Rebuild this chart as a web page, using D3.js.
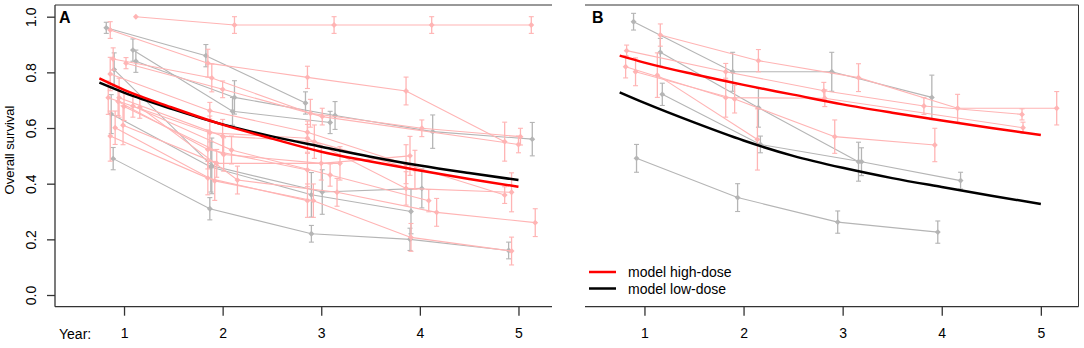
<!DOCTYPE html>
<html>
<head>
<meta charset="utf-8">
<script src="https://cdn.jsdelivr.net/npm/d3@7"></script>
<style>
  body { margin: 0; background: #fff; }
  svg { display: block; font-family: "Liberation Sans", Arial, sans-serif; }
</style>
</head>
<body>
<div id="chart"></div>
<script>
// years on the axis
var yearTicks = [1, 2, 3, 4, 5];
var survTicks = [0, 0.2, 0.4, 0.6, 0.8, 1.0];

// study curves: [year, survival, error half-width]
// panel A, low-dose studies (grey)
var greyA = [
  [[0.82, 0.96, 0.02], [1.83, 0.86, 0.04], [2.84, 0.69, 0.04]],
  [[1.09, 0.88, 0.04], [2.10, 0.66, 0.05], [3.09, 0.62, 0.04]],
  [[1.12, 0.84, 0.04], [2.12, 0.71, 0.06], [3.14, 0.645, 0.05], [4.13, 0.587, 0.06], [5.14, 0.56, 0.06]],
  [[0.90, 0.81, 0.06], [1.89, 0.464, 0.10], [3.01, 0.37, 0.08], [4.02, 0.383, 0.07]],
  [[0.87, 0.65, 0.07], [1.88, 0.46, 0.09], [2.90, 0.36, 0.08], [3.91, 0.30, 0.08]],
  [[0.89, 0.49, 0.04], [1.87, 0.31, 0.04], [2.90, 0.22, 0.03], [3.90, 0.20, 0.04], [4.90, 0.16, 0.03]]
];
// panel A, high-dose studies (pink)
var pinkA = [
  [[1.12, 1.00, 0], [2.12, 0.97, 0.03], [3.13, 0.97, 0.03], [4.12, 0.97, 0.03], [5.13, 0.97, 0.03]],
  [[0.86, 0.952, 0.03], [1.85, 0.833, 0.05], [2.86, 0.782, 0.04], [3.86, 0.733, 0.05], [4.86, 0.551, 0.07]],
  [[0.89, 0.848, 0.04], [1.89, 0.78, 0.05], [2.89, 0.653, 0.05], [4.02, 0.599, 0.03], [5.02, 0.569, 0.03]],
  [[1.02, 0.833, 0.02], [2.00, 0.739, 0.03], [3.01, 0.641, 0.03], [5.00, 0.541, 0.03]],
  [[0.86, 0.794, 0.06], [1.87, 0.662, 0.03], [2.86, 0.585, 0.04], [3.86, 0.47, 0.07], [4.86, 0.359, 0.03]],
  [[0.84, 0.709, 0.06], [1.87, 0.583, 0.06], [2.86, 0.563, 0.05], [3.86, 0.383, 0.06], [4.93, 0.369, 0.07]],
  [[0.95, 0.709, 0.07], [2.00, 0.571, 0.06], [2.93, 0.551, 0.06], [3.95, 0.45, 0.07]],
  [[0.94, 0.695, 0.05], [1.85, 0.523, 0.07], [2.86, 0.449, 0.06]],
  [[1.16, 0.675, 0.04], [2.15, 0.413, 0.05], [3.16, 0.369, 0.05], [4.17, 0.297, 0.05], [5.17, 0.26, 0.05]],
  [[1.09, 0.679, 0.04], [2.09, 0.521, 0.05], [3.09, 0.431, 0.04], [4.09, 0.339, 0.04]],
  [[1.00, 0.677, 0.05], [2.01, 0.505, 0.06], [3.00, 0.473, 0.06], [3.90, 0.50, 0.07]],
  [[0.91, 0.601, 0.06], [1.92, 0.41, 0.07], [2.92, 0.339, 0.06], [3.91, 0.207, 0.05], [4.93, 0.158, 0.05]],
  [[0.86, 0.571, 0.09], [1.85, 0.42, 0.06], [2.86, 0.339, 0.06]],
  [[0.99, 0.61, 0.07], [1.94, 0.473, 0.05], [3.19, 0.473, 0.06]]
];
// panel B
var greyB = [
  [[0.89, 0.982, 0.03], [1.89, 0.802, 0.07], [2.89, 0.802, 0.07], [3.90, 0.71, 0.08]],
  [[1.16, 0.872, 0.05], [2.15, 0.673, 0.07], [3.16, 0.479, 0.07]],
  [[1.18, 0.721, 0.04], [2.17, 0.541, 0.03], [3.19, 0.479, 0.05], [4.19, 0.411, 0.03]],
  [[0.92, 0.491, 0.05], [1.94, 0.35, 0.05], [2.95, 0.262, 0.04], [3.96, 0.226, 0.04]]
];
var pinkB = [
  [[1.16, 0.934, 0.04], [2.15, 0.842, 0.04], [3.16, 0.781, 0.05], [4.16, 0.671, 0.05], [5.16, 0.671, 0.06]],
  [[0.82, 0.878, 0.02], [1.82, 0.802, 0.03], [2.81, 0.734, 0.03], [3.82, 0.679, 0.03], [4.81, 0.649, 0.02]],
  [[0.81, 0.82, 0.04], [1.82, 0.709, 0.07], [2.82, 0.707, 0.03], [4.82, 0.601, 0.02]],
  [[0.91, 0.802, 0.05], [1.91, 0.704, 0.05], [2.92, 0.569, 0.06], [3.93, 0.539, 0.06]],
  [[1.13, 0.79, 0.08], [2.14, 0.559, 0.11]]
];

// model curves
var modelYears = [0.75, 1, 1.5, 2, 2.5, 3, 3.5, 4, 4.5, 5];
var highA = [0.778, 0.737, 0.672, 0.612, 0.562, 0.515, 0.48, 0.447, 0.417, 0.389];
var lowA  = [0.763, 0.727, 0.667, 0.613, 0.57, 0.533, 0.497, 0.465, 0.438, 0.413];
var highB = [0.86, 0.835, 0.793, 0.755, 0.72, 0.685, 0.655, 0.627, 0.60, 0.575];
var lowB  = [0.728, 0.69, 0.62, 0.555, 0.50, 0.457, 0.42, 0.388, 0.357, 0.327];

var legendLabels = ["model high-dose", "model low-dose"];

var PINK = "#ffb4b4", GREY = "#b5b5b5", RED = "#ff0000", BLACK = "#000000", AXIS = "#333";

var svg = d3.select("#chart").append("svg")
  .attr("width", 1084).attr("height", 348);

var y = d3.scaleLinear().domain([-0.042, 1.042]).range([306.7, 5]);

function drawPanel(opt) {
  var x = d3.scaleLinear().domain(opt.xdom).range(opt.xrange);
  var g = svg.append("g");
  var x0 = opt.xrange[0], x1 = opt.xrange[1];

  // frame
  g.append("line").attr("x1", x0).attr("x2", x1).attr("y1", y.range()[1]).attr("y2", y.range()[1])
    .attr("stroke", AXIS).attr("stroke-width", 1);
  if (opt.leftLine) {
    g.append("line").attr("x1", x0).attr("x2", x0).attr("y1", y.range()[1]).attr("y2", y.range()[0])
      .attr("stroke", AXIS).attr("stroke-width", 1.3);
  }
  if (opt.rightLine) {
    g.append("line").attr("x1", x1).attr("x2", x1).attr("y1", y.range()[1]).attr("y2", y.range()[0])
      .attr("stroke", AXIS).attr("stroke-width", 1);
  }

  // x axis
  var xa = g.append("g").attr("transform", "translate(0," + y.range()[0] + ")")
    .call(d3.axisBottom(x).tickValues(yearTicks).tickFormat(d3.format("d"))
      .tickSize(9).tickSizeOuter(0).tickPadding(12));
  xa.select(".domain").attr("d", "M" + x0 + ",0H" + x1).attr("stroke", AXIS).attr("stroke-width", 1.3);
  xa.selectAll(".tick line").attr("stroke", AXIS).attr("stroke-width", 1.3);
  xa.selectAll("text").style("font-size", "14px").attr("fill", "#000");

  if (opt.yAxis) {
    var ya = g.append("g").attr("transform", "translate(" + x0 + ",0)")
      .call(d3.axisLeft(y).tickValues(survTicks).tickFormat(d3.format(".1f")).tickSize(8).tickSizeOuter(0));
    ya.select(".domain").remove();
    ya.selectAll(".tick line").attr("stroke", AXIS).attr("stroke-width", 1.3);
    ya.selectAll("text")
      .attr("transform", "rotate(-90)")
      .attr("x", 0).attr("y", -19).attr("dy", 0)
      .style("text-anchor", "middle")
      .style("font-size", "14px").attr("fill", "#000");

    g.append("text").attr("transform", "translate(14,150) rotate(-90)")
      .attr("text-anchor", "middle").style("font-size", "13px")
      .text("Overall survival");
    g.append("text").attr("x", 59).attr("y", 339).style("font-size", "14px").text("Year:");
  }

  g.append("text").attr("x", opt.letterX).attr("y", 23)
    .style("font-size", "16px").style("font-weight", "bold").text(opt.letter);

  var line = d3.line().x(function (d) { return x(d[0]); }).y(function (d) { return y(d[1]); });
  var diamond = d3.symbol().type(d3.symbolDiamond2).size(22);

  function drawStudies(list, color) {
    list.forEach(function (s) {
      var sg = g.append("g");
      sg.append("path").datum(s).attr("d", line)
        .attr("fill", "none").attr("stroke", color).attr("stroke-width", 1.1);
      var eb = sg.selectAll(".eb").data(s.filter(function (d) { return d[2] > 0; })).enter().append("g");
      eb.append("line")
        .attr("x1", function (d) { return x(d[0]); }).attr("x2", function (d) { return x(d[0]); })
        .attr("y1", function (d) { return y(d[1] - d[2]); }).attr("y2", function (d) { return y(d[1] + d[2]); })
        .attr("stroke", color).attr("stroke-width", 1.3);
      [-1, 1].forEach(function (k) {
        eb.append("line")
          .attr("x1", function (d) { return x(d[0]) - 2.5; }).attr("x2", function (d) { return x(d[0]) + 2.5; })
          .attr("y1", function (d) { return y(d[1] + k * d[2]); }).attr("y2", function (d) { return y(d[1] + k * d[2]); })
          .attr("stroke", color).attr("stroke-width", 1.1);
      });
      sg.selectAll(".pt").data(s).enter().append("path")
        .attr("d", diamond)
        .attr("transform", function (d) { return "translate(" + x(d[0]) + "," + y(d[1]) + ")"; })
        .attr("fill", color);
    });
  }
  drawStudies(opt.grey, GREY);
  drawStudies(opt.pink, PINK);

  var mline = d3.line().curve(d3.curveMonotoneX)
    .x(function (d, i) { return x(modelYears[i]); }).y(function (d) { return y(d); });
  g.append("path").datum(opt.low).attr("d", mline)
    .attr("fill", "none").attr("stroke", BLACK).attr("stroke-width", 2.5);
  g.append("path").datum(opt.high).attr("d", mline)
    .attr("fill", "none").attr("stroke", RED).attr("stroke-width", 2.5);

  if (opt.legend) {
    var lg = g.append("g").attr("transform", "translate(" + (x0 + 4) + ",272)");
    [RED, BLACK].forEach(function (c, i) {
      lg.append("line").attr("x1", 0).attr("x2", 27).attr("y1", i * 16.5).attr("y2", i * 16.5)
        .attr("stroke", c).attr("stroke-width", 2.5);
      lg.append("text").attr("x", 39).attr("y", i * 16.5 + 5).style("font-size", "14px")
        .text(legendLabels[i]);
    });
  }
}

drawPanel({
  xdom: [0.3, 5.34], xrange: [55, 552], yAxis: true, leftLine: true, rightLine: false,
  letter: "A", letterX: 59, grey: greyA, pink: pinkA, high: highA, low: lowA, legend: false
});
drawPanel({
  xdom: [0.4, 5.38], xrange: [585, 1078.5], yAxis: false, leftLine: false, rightLine: true,
  letter: "B", letterX: 592, grey: greyB, pink: pinkB, high: highB, low: lowB, legend: true
});
</script>
</body>
</html>
